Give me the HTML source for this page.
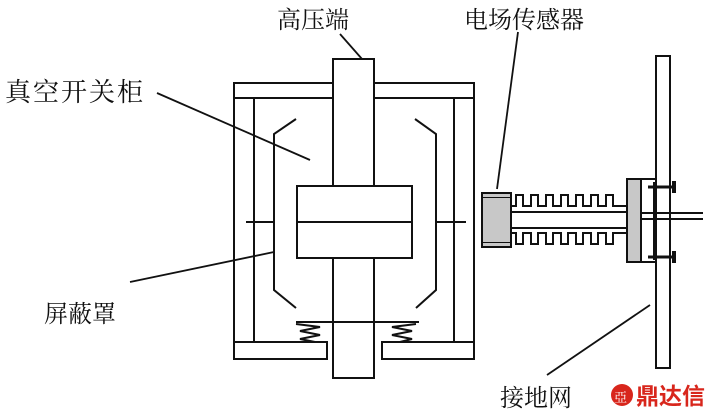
<!DOCTYPE html>
<html><head><meta charset="utf-8"><style>
body{margin:0;background:#fff;width:709px;height:415px;overflow:hidden}
svg{display:block}
text{font-family:"Liberation Serif","Noto Serif CJK SC",serif;fill:#111}
</style></head><body>
<svg width="709" height="415" viewBox="0 0 709 415" xmlns="http://www.w3.org/2000/svg">
<g fill="none" stroke="#111" stroke-width="2">
<!-- cabinet -->
<polyline points="333,83 234,83 234,359 327,359 327,342 254,342"/>
<polyline points="374,83 474,83 474,359 382,359 382,342 454,342"/>
<line x1="234" y1="98" x2="333" y2="98"/><line x1="374" y1="98" x2="474" y2="98"/>
<line x1="254" y1="98" x2="254" y2="342"/><line x1="454" y1="98" x2="454" y2="342"/>
<line x1="234" y1="342" x2="254" y2="342"/><line x1="454" y1="342" x2="474" y2="342"/>
<!-- shaft -->
<rect x="333" y="59" width="41" height="319" fill="#fff"/>
<rect x="297" y="186" width="115" height="72" fill="#fff"/>
<line x1="297" y1="222" x2="412" y2="222"/>
<line x1="246" y1="222" x2="274" y2="222"/><line x1="435" y1="222" x2="466" y2="222"/>
<polyline points="296,119 274,134 274,290 296,308"/>
<polyline points="415,119 436,134 436,290 416,308"/>
<line x1="296" y1="322" x2="419" y2="322"/>
<polyline points="296,324 320,327 300,331 320,335 300,339 315,342"/>
<polyline points="416,324 392,327 412,331 392,335 412,339 400,342"/>
<!-- leaders -->
<line x1="157" y1="93" x2="310" y2="160" stroke-width="1.8"/>
<line x1="130" y1="282" x2="274" y2="252" stroke-width="1.8"/>
<line x1="340" y1="34" x2="362" y2="59" stroke-width="1.8"/>
<line x1="518" y1="32" x2="497" y2="189" stroke-width="1.8"/>
<line x1="547" y1="375" x2="650" y2="305" stroke-width="1.8"/>
<!-- ground plate -->
<rect x="656" y="56" width="14" height="312" fill="#fff"/>
<!-- sensor -->
<rect x="482" y="193" width="29" height="54" fill="#c8c8c8"/>
<line x1="482" y1="198" x2="511" y2="198"/><line x1="482" y1="242" x2="511" y2="242"/>
<rect x="482" y="198" width="29" height="44" fill="#c8c8c8" stroke="none"/>
<rect x="482" y="193" width="29" height="54"/>
<rect x="511" y="212" width="116" height="16"/>
<polyline points="511,206 516,206 516,195 523,195 523,206 531,206 531,195 538,195 538,206 546,206 546,195 553,195 553,206 561,206 561,195 568,195 568,206 576,206 576,195 583,195 583,206 591,206 591,195 598,195 598,206 606,206 606,195 613,195 613,206 627,206"/>
<polyline points="511,233 516,233 516,244 523,244 523,233 531,233 531,244 538,244 538,233 546,233 546,244 553,244 553,233 561,233 561,244 568,244 568,233 576,233 576,244 583,244 583,233 591,233 591,244 598,244 598,233 606,233 606,244 613,244 613,233 627,233"/>
<rect x="627" y="179" width="14" height="83" fill="#c8c8c8"/>
<rect x="641" y="179" width="15" height="83" fill="#fff"/>
<line x1="654" y1="182" x2="654" y2="260"/>
<line x1="641" y1="213" x2="703" y2="213"/><line x1="641" y1="219" x2="703" y2="219"/>
<line x1="648" y1="187" x2="674" y2="187" stroke-width="3"/>
<line x1="648" y1="257" x2="674" y2="257" stroke-width="3"/>
<line x1="674" y1="181" x2="674" y2="193" stroke-width="4"/>
<line x1="674" y1="251" x2="674" y2="263" stroke-width="4"/>
</g>
<text x="277" y="28" font-size="24">高压端</text>
<text x="464" y="28" font-size="24">电场传感器</text>
<text x="5" y="101" font-size="26" letter-spacing="2">真空开关柜</text>
<text x="44" y="322" font-size="24">屏蔽罩</text>
<text x="500" y="406" font-size="24">接地网</text>
<circle cx="622" cy="395" r="11" fill="#d8261c"/>
<text x="614" y="402" font-size="13" style="fill:#fff">亞</text>
<text x="636" y="404" font-size="23" font-weight="bold" style="fill:#d8261c;font-family:'Liberation Sans','Noto Sans CJK SC',sans-serif">鼎达信</text>
</svg>
</body></html>
